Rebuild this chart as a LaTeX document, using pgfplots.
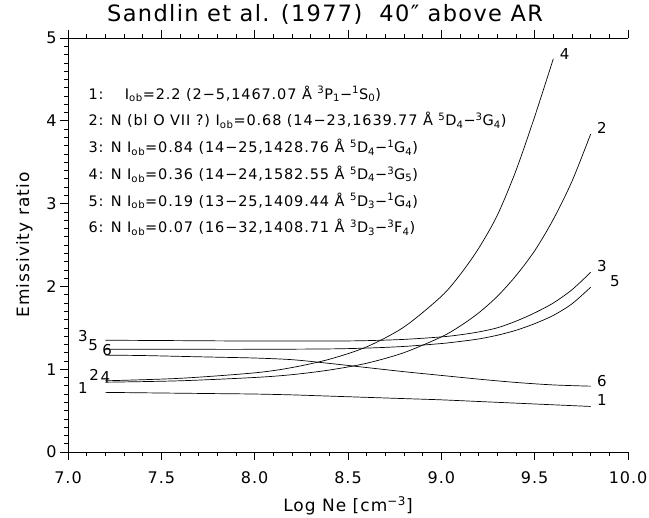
\documentclass[border=0pt]{standalone}
\usepackage{fontspec}
\setmainfont{DejaVu Sans}[LetterSpace=6]
\usepackage{pgfplots}
\pgfplotsset{compat=1.18}
\newcommand{\ob}{\textsubscript{ob}}
\newcommand{\su}[1]{\textsuperscript{#1}}
\newcommand{\lo}[1]{\textsubscript{#1}}
\newcommand{\leg}{\fontsize{14.5bp}{17bp}\selectfont}
\newcommand{\lab}{\fontsize{15bp}{17bp}\selectfont}
\begin{document}
\begin{tikzpicture}
\path[use as bounding box] (-68bp,-66bp) rectangle (581bp,452bp);
\begin{axis}[
 at={(0,0)}, anchor=south west,
 scale only axis, width=560bp, height=414bp,
 xmin=7, xmax=10, ymin=0, ymax=5,
 axis x line*=box, axis y line*=left,
 axis line style={line width=0.7pt},
 tick align=outside,
 xtick={7,7.5,8,8.5,9,9.5,10}, ytick={0,1,2,3,4,5},
 minor x tick num=4, minor y tick num=9,
 major tick length=8bp, minor tick length=4bp,
 every tick/.style={black, line width=0.6pt},
 xticklabel style={/pgf/number format/.cd, fixed, fixed zerofill, precision=1},
 xticklabel shift=8bp,
 /pgf/number format/assume math mode=true,
 tick label style={font=\fontsize{16bp}{18bp}\selectfont},
 title={Sandlin et al. (1977)\ \ 40″ above AR},
 title style={at={(axis description cs:0.459,1.042)}, anchor=center, font=\fontsize{22.5bp}{25bp}\selectfont},
 xlabel={Log Ne [cm\textsuperscript{−3}]},
 xlabel style={at={(axis description cs:0.5,-0.13)}, anchor=center, font=\fontsize{17bp}{20bp}\selectfont},
 ylabel={Emissivity ratio},
 ylabel style={at={(axis description cs:-0.078,0.5)}, anchor=center, font=\fontsize{17bp}{20bp}\selectfont},
 clip=false,
]
% curve 1
\addplot[black, line width=0.7pt, smooth] coordinates {(7.2,0.72) (7.4,0.715) (7.6,0.71) (7.8,0.705) (8.0,0.70) (8.2,0.69) (8.4,0.675) (8.6,0.66) (8.8,0.645) (9.0,0.63) (9.2,0.61) (9.4,0.59) (9.6,0.57) (9.8,0.55)};
% curve 2
\addplot[black, line width=0.7pt, smooth] coordinates {(7.2,0.843) (7.6,0.86) (8.0,0.90) (8.2,0.934) (8.4,0.99) (8.6,1.072) (8.8,1.20) (9.0,1.39) (9.1,1.52) (9.2,1.68) (9.3,1.88) (9.4,2.13) (9.5,2.43) (9.6,2.81) (9.7,3.27) (9.8,3.84)};
% curve 3
\addplot[black, line width=0.7pt, smooth] coordinates {(7.2,1.35) (7.6,1.345) (8.0,1.34) (8.4,1.34) (8.6,1.345) (8.8,1.36) (9.0,1.39) (9.1,1.415) (9.2,1.45) (9.3,1.50) (9.4,1.58) (9.5,1.68) (9.6,1.80) (9.7,1.96) (9.8,2.17)};
% curve 4
\addplot[black, line width=0.7pt, smooth] coordinates {(7.2,0.86) (7.6,0.89) (8.0,0.956) (8.2,1.02) (8.4,1.12) (8.6,1.27) (8.8,1.51) (9.0,1.88) (9.1,2.14) (9.2,2.46) (9.3,2.86) (9.4,3.40) (9.5,4.05) (9.6,4.75)};
% curve 5
\addplot[black, line width=0.7pt, smooth] coordinates {(7.2,1.24) (7.6,1.24) (8.0,1.24) (8.4,1.245) (8.6,1.255) (8.8,1.275) (9.0,1.31) (9.1,1.335) (9.2,1.365) (9.3,1.41) (9.4,1.47) (9.5,1.55) (9.6,1.65) (9.7,1.79) (9.8,1.99)};
% curve 6
\addplot[black, line width=0.7pt, smooth] coordinates {(7.2,1.17) (7.4,1.165) (7.6,1.155) (7.8,1.145) (8.0,1.135) (8.2,1.115) (8.4,1.07) (8.6,1.02) (8.8,0.97) (9.0,0.925) (9.2,0.88) (9.4,0.84) (9.6,0.81) (9.8,0.795)};
% curve labels
\node[font=\lab] at (axis cs:7.08,1.40) {3};
\node[font=\lab] at (axis cs:7.135,1.29) {5};
\node[font=\lab] at (axis cs:7.21,1.23) {6};
\node[font=\lab] at (axis cs:7.14,0.93) {2};
\node[font=\lab] at (axis cs:7.20,0.90) {4};
\node[font=\lab] at (axis cs:7.08,0.77) {1};
\node[font=\lab] at (axis cs:9.66,4.81) {4};
\node[font=\lab] at (axis cs:9.86,3.91) {2};
\node[font=\lab] at (axis cs:9.86,2.24) {3};
\node[font=\lab] at (axis cs:9.93,2.06) {5};
\node[font=\lab] at (axis cs:9.86,0.86) {6};
\node[font=\lab] at (axis cs:9.86,0.63) {1};
% legend text
\node[anchor=base west, inner sep=0pt, font=\leg] at (axis cs:7.109,4.263) {1:\hspace{14bp} I\ob=2.2 (2−5,1467.07 Å \su{3}P\lo{1}−\su{1}S\lo{0})};
\node[anchor=base west, inner sep=0pt, font=\leg] at (axis cs:7.109,3.939) {2: N (bl O VII ?) I\ob=0.68 (14−23,1639.77 Å \su{5}D\lo{4}−\su{3}G\lo{4})};
\node[anchor=base west, inner sep=0pt, font=\leg] at (axis cs:7.109,3.616) {3: N I\ob=0.84 (14−25,1428.76 Å \su{5}D\lo{4}−\su{1}G\lo{4})};
\node[anchor=base west, inner sep=0pt, font=\leg] at (axis cs:7.109,3.292) {4: N I\ob=0.36 (14−24,1582.55 Å \su{5}D\lo{4}−\su{3}G\lo{5})};
\node[anchor=base west, inner sep=0pt, font=\leg] at (axis cs:7.109,2.969) {5: N I\ob=0.19 (13−25,1409.44 Å \su{5}D\lo{3}−\su{1}G\lo{4})};
\node[anchor=base west, inner sep=0pt, font=\leg] at (axis cs:7.109,2.645) {6: N I\ob=0.07 (16−32,1408.71 Å \su{3}D\lo{3}−\su{3}F\lo{4})};
\end{axis}
\end{tikzpicture}
\end{document}
